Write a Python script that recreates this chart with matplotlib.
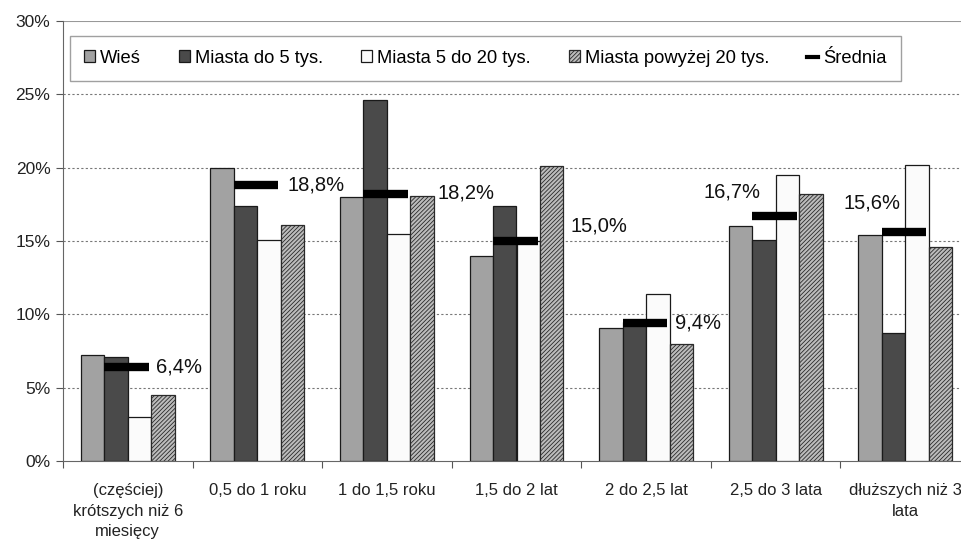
import matplotlib
matplotlib.use("Agg")
import matplotlib.pyplot as plt
import numpy as np
from matplotlib.patches import Patch
from matplotlib.lines import Line2D

plt.rcParams['font.family'] = ['Liberation Sans', 'DejaVu Sans']
plt.rcParams['hatch.linewidth'] = 0.6

categories = ["(częściej)\nkrótszych niż 6\nmiesięcy", "0,5 do 1 roku", "1 do 1,5 roku",
              "1,5 do 2 lat", "2 do 2,5 lat", "2,5 do 3 lata", "dłuższych niż 3\nlata"]
series_names = ["Wieś", "Miasta do 5 tys.", "Miasta 5 do 20 tys.", "Miasta powyżej 20 tys."]
wies = [7.2, 20.0, 18.0, 14.0, 9.1, 16.0, 15.4]
miasta_do5 = [7.1, 17.4, 24.6, 17.4, 9.5, 15.1, 8.7]
miasta_5_20 = [3.0, 15.1, 15.5, 15.0, 11.4, 19.5, 20.2]
miasta_pow20 = [4.5, 16.1, 18.1, 20.1, 8.0, 18.2, 14.6]
srednia = [6.4, 18.8, 18.2, 15.0, 9.4, 16.7, 15.6]
srednia_labels = ["6,4%", "18,8%", "18,2%", "15,0%", "9,4%", "16,7%", "15,6%"]
y_ticks = [0, 5, 10, 15, 20, 25, 30]

fig = plt.figure(figsize=(9.62, 5.42), dpi=100)
ax = fig.add_axes([63 / 962, 1 - 461 / 542, 907 / 962, 440 / 542])

x = np.arange(len(categories))
w = 0.181
styles = [
    dict(facecolor="#a2a2a2", edgecolor="#1a1a1a"),
    dict(facecolor="#4a4a4a", edgecolor="#1a1a1a"),
    dict(facecolor="#fbfbfb", edgecolor="#1a1a1a"),
    dict(facecolor="#bcbcbc", edgecolor="#2a2a2a", hatch="////////"),
]
data = [wies, miasta_do5, miasta_5_20, miasta_pow20]
for j, (vals, st) in enumerate(zip(data, styles)):
    ax.bar(x + (j - 1.5) * w, vals, width=w, linewidth=0.9, zorder=3, **st)

# average markers
ax.hlines(srednia, x - w, x + 0.9 * w, colors="black", linewidth=6, zorder=4)

# average value labels (offset in category units / percentage points)
label_dx = [0.22, 0.23, 0.39, 0.42, 0.22, -0.56, -0.48]
label_dy = [0.0, 0.0, 0.1, 1.0, 0.0, 1.65, 2.0]
for xi, v, s, dx, dy in zip(x, srednia, srednia_labels, label_dx, label_dy):
    ax.text(xi + dx, v + dy, s, ha="left", va="center", fontsize=14.5, color="#111111", zorder=5)

ax.set_xlim(-0.5, len(categories) - 0.5)
ax.set_ylim(0, 30)
ax.set_yticks(y_ticks)
ax.set_yticklabels([f"{t}%" for t in y_ticks], fontsize=12.5, color="#222222")
for t in y_ticks[1:-1]:
    ax.axhline(t, color="#777777", linestyle=(0, (2, 2)), linewidth=0.8, zorder=1)
ax.axhline(30, color="#999999", linewidth=1.5, zorder=1)

ax.set_xticks(np.arange(len(categories) + 1) - 0.5)
ax.set_xticklabels([])
ax.set_xticks(x, minor=True)
ax.set_xticklabels(categories, minor=True, fontsize=12, color="#222222", linespacing=1.45)
ax.tick_params(axis="x", which="minor", length=0, pad=16)
ax.tick_params(axis="x", which="major", length=5, direction="out", color="#555555")
ax.tick_params(axis="y", length=5, direction="out", color="#555555", pad=4)

for side in ["top", "right"]:
    ax.spines[side].set_visible(False)
ax.spines["left"].set_color("#666666")
ax.spines["bottom"].set_color("#666666")

handles = [Patch(linewidth=0.9, **st) for st in styles]
handles.append(Line2D([0], [0], color="black", linewidth=3))
leg = ax.legend(handles, series_names + ["Średnia"], ncol=5, loc="upper left",
                bbox_to_anchor=(7 / 907, 1 - 15 / 440), fontsize=13.2,
                frameon=True, fancybox=False, edgecolor="#888888",
                handlelength=0.6, handleheight=0.6, handletextpad=0.3,
                columnspacing=2.05, borderpad=0.75, borderaxespad=0)
leg.get_frame().set_linewidth(1.0)

fig.savefig("out.png", dpi=100)
